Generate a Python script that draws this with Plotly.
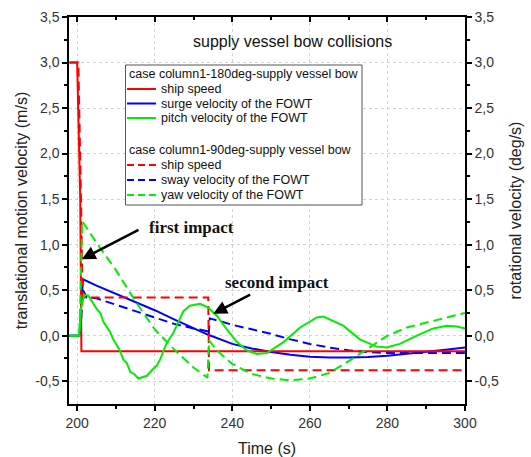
import plotly.graph_objects as go

# ---------------- data ----------------
t_ship_180 = [198, 200.0, 200.8, 201.1, 300]
v_ship_180 = [3.0, 3.0, 1.5, -0.17, -0.17]

t_surge = [198, 200.6, 201.0, 201.5, 205, 210, 215, 220, 225, 230, 233.8, 240, 245, 250,
           255, 260, 265, 270, 275, 280, 285, 290, 295, 300]
v_surge = [0, 0, 0.3, 0.62, 0.55, 0.46, 0.37, 0.28, 0.18, 0.08, 0.01, -0.09, -0.14, -0.18,
           -0.21, -0.23, -0.24, -0.24, -0.235, -0.22, -0.20, -0.18, -0.155, -0.13]

t_pitch = [198, 200.5, 201.0, 201.8, 202.9, 204, 205.1, 206.0, 206.8, 207.6, 208.5, 209.3,
           210.2, 211.0, 211.9, 212.8, 213.7, 214.7, 215.8, 216.8, 218, 219.7, 220.5, 221.4,
           222.2, 223.1, 224.8, 226.5, 227.4, 229.1, 231.7, 233.8, 236,
           238.6, 241.2, 243.7, 246.3, 248.9, 253.2, 257.5, 261.8, 263.5, 268.6, 272.9,
           277.2, 279.8, 283.2, 287.6, 291.8, 295.3, 297.9, 300]
v_pitch = [0, 0, 0.3, 0.45, 0.44, 0.36, 0.29, 0.25, 0.15, 0.10, 0.04, -0.04,
           -0.11, -0.16, -0.26, -0.30, -0.40, -0.42, -0.47, -0.46, -0.44, -0.36, -0.33, -0.26,
           -0.18, -0.08, 0.03, 0.18, 0.27, 0.33, 0.35, 0.31, 0.22,
           0.07, -0.07, -0.16, -0.20, -0.19, -0.07, 0.09, 0.20, 0.21, 0.11, -0.04,
           -0.12, -0.13, -0.09, 0.0, 0.08, 0.11, 0.10, 0.08]

t_ship_90 = [198, 200.3, 201.0, 201.4, 233.8, 234.0, 300]
v_ship_90 = [3.0, 3.0, 1.5, 0.42, 0.42, -0.38, -0.38]

t_sway = [198, 200.8, 201.5, 202.5, 205, 210, 215, 220, 225, 230, 233.5, 233.9, 234.2, 236,
          240, 245, 250, 255, 260, 265, 270, 275, 280, 290, 300]
v_sway = [0, 0, 0.50, 0.42, 0.41, 0.34, 0.27, 0.20, 0.13, 0.08, 0.05, 0.0, 0.19, 0.17,
          0.12, 0.07, 0.02, -0.04, -0.09, -0.13, -0.16, -0.18, -0.19, -0.19, -0.19]

t_yaw = [198, 200.6, 201.3, 205, 210, 215, 220, 225, 230, 233.6, 234.0, 236, 240, 245, 250,
         255, 260, 265, 270, 275, 280, 285, 290, 295, 300]
v_yaw = [0, 0, 1.26, 1.02, 0.72, 0.38, 0.07, -0.15, -0.35, -0.46, -0.05, -0.16, -0.31, -0.42,
         -0.47, -0.49, -0.47, -0.41, -0.28, -0.14, 0.0, 0.09, 0.145, 0.20, 0.25]

group_titles = ["case column1-180deg-supply vessel bow", "case column1-90deg-supply vessel bow"]
names_180 = ["ship speed", "surge velocity of the FOWT", "pitch velocity of the FOWT"]
names_90 = ["ship speed", "sway velocity of the FOWT", "yaw velocity of the FOWT"]

x_tickvals = [200, 220, 240, 260, 280, 300]
x_ticktext = ["200", "220", "240", "260", "280", "300"]
y_tickvals = [-0.5, 0.0, 0.5, 1.0, 1.5, 2.0, 2.5, 3.0, 3.5]
y_ticktext = ["-0,5", "0,0", "0,5", "1,0", "1,5", "2,0", "2,5", "3,0", "3,5"]

chart_title = "supply vessel bow collisions"
x_title = "Time (s)"
y_title_left = "translational motion velocity (m/s)"
y_title_right = "rotational velocity (deg/s)"
impact_labels = ["first impact", "second impact"]

# ---------------- styles ----------------
RED, BLUE, GREEN = "#ff0000", "#0000ff", "#00ee00"
LW = 2
DASH = "9px,5px"
SANS = "Liberation Sans, Arial, sans-serif"
SERIF = "Liberation Serif, Times New Roman, serif"

W, H = 531, 457
ML, MR, MT, MB = 69, 66, 17, 53
PW, PH = W - ML - MR, H - MT - MB


def pxx(p):
    return (p - ML) / PW


def pxy(p):
    return (H - MB - p) / PH


fig = go.Figure()

series = [
    (t_ship_180, v_ship_180, RED, "solid", names_180[0], "x", "y"),
    (t_surge, v_surge, BLUE, "solid", names_180[1], "x", "y"),
    (t_pitch, v_pitch, GREEN, "solid", names_180[2], "x2", "y2"),
    (t_ship_90, v_ship_90, RED, DASH, names_90[0], "x", "y"),
    (t_sway, v_sway, BLUE, DASH, names_90[1], "x", "y"),
    (t_yaw, v_yaw, GREEN, DASH, names_90[2], "x2", "y2"),
]
order = [2, 5, 1, 4, 3, 0]
for i in order:
    tx, vy, col, dash, nm, xa, ya = series[i]
    fig.add_trace(go.Scatter(x=tx, y=vy, mode="lines", name=nm, showlegend=False,
                             line=dict(color=col, width=LW, dash=dash),
                             xaxis=xa, yaxis=ya, hoverinfo="skip"))

xr = [197.9, 300]
yr = [-0.75, 3.5]
grid = dict(showgrid=True, gridcolor="#d4d4d4", griddash="dot", gridwidth=1)
tickfont = dict(family=SANS, size=14, color="#333333")
titlefont = dict(family=SANS, size=16, color="#222222")
minor_x = [210, 230, 250, 270, 290]
minor_y = [-0.25, 0.25, 0.75, 1.25, 1.75, 2.25, 2.75, 3.25]

fig.update_layout(
    width=W, height=H,
    margin=dict(l=ML, r=MR, t=MT, b=MB, autoexpand=False),
    paper_bgcolor="white", plot_bgcolor="white",
    showlegend=False,
    xaxis=dict(range=xr, tickvals=x_tickvals, ticktext=x_ticktext, ticks="outside",
               ticklen=5, tickwidth=1.5, tickcolor="black", showline=True, linecolor="black",
               linewidth=1.5, tickfont=tickfont, zeroline=False, automargin=False,
               minor=dict(tickvals=minor_x, ticks="outside", ticklen=3,
                          tickcolor="black", showgrid=False),
               title=dict(text=x_title, font=titlefont, standoff=14), **grid),
    xaxis2=dict(range=xr, overlaying="x", side="top", anchor="y", matches="x",
                tickvals=x_tickvals, showticklabels=False, ticks="inside", ticklen=5,
                tickwidth=1.5, tickcolor="black", showline=True, linecolor="black",
                linewidth=1.5, showgrid=False, zeroline=False, automargin=False,
                minor=dict(tickvals=minor_x, ticks="inside", ticklen=3, tickcolor="black")),
    yaxis=dict(range=yr, tickvals=y_tickvals, ticktext=y_ticktext, ticks="outside",
               ticklen=5, tickwidth=1.5, tickcolor="black", showline=True, linecolor="black",
               linewidth=1.5, tickfont=tickfont, zeroline=False, automargin=False,
               minor=dict(tickvals=minor_y, ticks="outside", ticklen=3, tickcolor="black",
                          showgrid=False),
               title=dict(text=y_title_left, font=titlefont, standoff=4), **grid),
    yaxis2=dict(range=yr, overlaying="y", side="right", anchor="x2", matches="y",
                tickvals=y_tickvals, ticktext=y_ticktext, ticks="outside", ticklen=5,
                tickwidth=1.5, tickcolor="black", showline=True, linecolor="black",
                linewidth=1.5, tickfont=tickfont, showgrid=False, zeroline=False,
                automargin=False,
                minor=dict(tickvals=minor_y, ticks="outside", ticklen=3, tickcolor="black"),
                title=dict(text=y_title_right, font=titlefont, standoff=12)),
)

annotations = []
shapes = []

annotations.append(dict(text=chart_title, xref="paper", yref="paper", x=pxx(292), y=pxy(42),
                        xanchor="center", yanchor="middle", showarrow=False,
                        font=dict(family=SANS, size=16, color="#111111")))

arrows = [((201.2, 0.84), (216.2, 1.17)), ((235.1, 0.24), (245.0, 0.46))]
for (tip, tail) in arrows:
    annotations.append(dict(x=tip[0], y=tip[1], ax=tail[0], ay=tail[1], xref="x", yref="y",
                            axref="x", ayref="y", text="", showarrow=True, arrowhead=2,
                            arrowsize=1.1, arrowwidth=2.5, arrowcolor="black"))
annotations.append(dict(text="<b>%s</b>" % impact_labels[0], xref="paper", yref="paper",
                        x=pxx(191), y=pxy(228), xanchor="center", yanchor="middle",
                        showarrow=False, font=dict(family=SERIF, size=17, color="#111111")))
annotations.append(dict(text="<b>%s</b>" % impact_labels[1], xref="paper", yref="paper",
                        x=pxx(277), y=pxy(282), xanchor="center", yanchor="middle",
                        showarrow=False, font=dict(family=SERIF, size=17, color="#111111")))

box = (125.5, 65, 362, 205)
shapes.append(dict(type="rect", xref="paper", yref="paper", x0=pxx(box[0]), x1=pxx(box[2]),
                   y0=pxy(box[1]), y1=pxy(box[3]), line=dict(color="#555555", width=1),
                   fillcolor="white", layer="above"))
legfont = dict(family=SANS, size=12.5, color="#111111")
title_rows = [74, 150]
item_rows = [[89, 103.5, 118], [165, 180, 195]]
groups = [(names_180, [RED, BLUE, GREEN], "solid"), (names_90, [RED, BLUE, GREEN], DASH)]
for g, (names, cols, dash) in enumerate(groups):
    annotations.append(dict(text=group_titles[g], xref="paper", yref="paper",
                            x=pxx(126.5), y=pxy(title_rows[g]), xanchor="left",
                            yanchor="middle", showarrow=False, font=legfont))
    for k in range(3):
        yy = item_rows[g][k]
        shapes.append(dict(type="line", xref="paper", yref="paper", x0=pxx(127), x1=pxx(156),
                           y0=pxy(yy), y1=pxy(yy), layer="above",
                           line=dict(color=cols[k], width=LW,
                                     dash="solid" if dash == "solid" else "7px,4px")))
        annotations.append(dict(text=names[k], xref="paper", yref="paper", x=pxx(158.5),
                                y=pxy(yy), xanchor="left", yanchor="middle",
                                showarrow=False, font=legfont))

fig.update_layout(annotations=annotations, shapes=shapes)
fig.write_html("out.html")
